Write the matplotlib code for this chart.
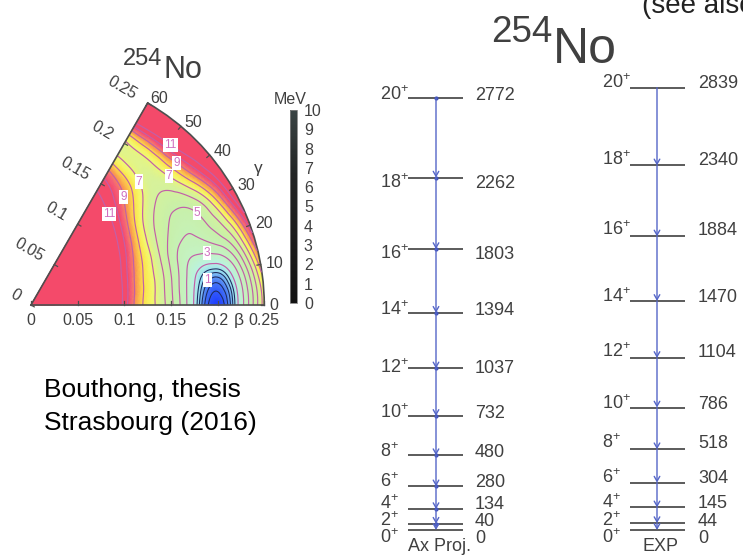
# 254No: potential energy surface in the (beta, gamma) plane, and the
# ground-state band from axial projection next to the measured band.

import numpy as np
import matplotlib
matplotlib.use("Agg")
import matplotlib.pyplot as plt
import matplotlib.tri as mtri
from matplotlib.colors import LinearSegmentedColormap, Normalize
from matplotlib.cm import ScalarMappable
from matplotlib.patches import Arc

plt.rcParams["font.family"] = ["Liberation Sans", "DejaVu Sans"]
plt.rcParams["mathtext.fontset"] = "custom"
plt.rcParams["mathtext.rm"] = "Liberation Sans"
plt.rcParams["mathtext.it"] = "Liberation Sans:italic"
plt.rcParams["mathtext.bf"] = "Liberation Sans:bold"

W, H = 743, 555

# ---- surface: energy (MeV) on a beta x gamma grid ------------------------
beta_grid = [0.0, 0.025, 0.05, 0.075, 0.1, 0.125, 0.15, 0.175, 0.2, 0.225, 0.25]
gamma_grid = [0, 10, 20, 30, 40, 50, 60]
energy_mev = [
    [30.0, 30.0, 30.0, 30.0, 30.0, 30.0, 30.0],
    [26.0, 26.0, 26.0, 26.0, 26.0, 26.0, 26.0],
    [21.0, 21.0, 21.2, 21.4, 21.6, 21.8, 22.0],
    [16.0, 16.2, 16.6, 17.2, 18.0, 18.5, 19.0],
    [10.6, 10.9, 11.5, 12.5, 13.6, 14.6, 15.0],
    [7.6, 7.8, 8.2, 9.0, 10.2, 11.4, 12.0],
    [5.3, 5.4, 5.7, 6.3, 7.5, 9.3, 10.5],
    [1.9, 2.4, 3.6, 4.8, 6.0, 7.2, 8.0],
    [0.0, 1.2, 4.0, 4.9, 6.5, 7.0, 6.8],
    [2.5, 3.3, 5.8, 7.5, 9.5, 10.6, 11.0],
    [7.5, 8.5, 10.5, 12.5, 13.0, 14.0, 15.0],
]

pink_levels = [2, 3, 4, 5, 6, 7, 8, 9, 10, 11]
dark_levels = [0.3, 0.6, 0.9, 1.2, 1.5]

# labelled contours: level and the (beta, gamma) spot where the label sits
label_levels = [11, 9, 7, 11, 9, 7, 5, 3, 1]
label_beta = [0.130, 0.154, 0.179, 0.231, 0.219, 0.204, 0.203, 0.197, 0.198]
label_gamma = [49.3, 49.0, 48.4, 49.1, 44.4, 43.1, 29.0, 16.8, 5.9]

beta_ticks = [0, 0.05, 0.1, 0.15, 0.2, 0.25]
gamma_ticks = [0, 10, 20, 30, 40, 50, 60]
cbar_ticks = [0, 1, 2, 3, 4, 5, 6, 7, 8, 9, 10]

# ---- ground-state band (keV) ----------------------------------------------
spins = [0, 2, 4, 6, 8, 10, 12, 14, 16, 18, 20]
ax_proj_kev = [0, 40, 134, 280, 480, 732, 1037, 1394, 1803, 2262, 2772]
exp_kev = [0, 44, 145, 304, 518, 786, 1104, 1470, 1884, 2340, 2839]

# label baselines below each level line, in pixels
ax_label_dy = [13, 2, 0, 1, 1.5, 2.3, 4.8, 2, 10, 10.7, 1.7]
exp_label_dy = [13, 3, 1, 0, -1, 1, -1, 1, -1.5, 0, 0]

GREY = "#404040"
LINE = "#4e4e4e"
BLUE = "#5566c8"
PINK = "#c25fa8"

pes_cmap = LinearSegmentedColormap.from_list("pes", [
    (0.00, "#2040ff"),
    (0.07, "#4f82f6"),
    (0.13, "#95dcf2"),
    (0.20, "#baf2e4"),
    (0.30, "#c4f2c4"),
    (0.50, "#c8f0aa"),
    (0.64, "#d8f29a"),
    (0.73, "#f6f86a"),
    (0.80, "#fce24a"),
    (0.88, "#fa9a50"),
    (0.95, "#f4607a"),
    (1.00, "#f44a6a"),
])
pes_cmap.set_over("#f44a6a")
pes_cmap.set_under("#2040ff")

bar_cmap = LinearSegmentedColormap.from_list(
    "bar", ["#121212", "#1b1b1b", "#222424", "#3a4444"])


def fxy(x, y):
    """pixel position -> figure fraction"""
    return x / W, 1 - y / H


fig = plt.figure(figsize=(W / 100, H / 100), dpi=100)

# ---- right: level schemes ------------------------------------------------
KEV_PX = 0.1558
ZERO_PX = 530
rax = fig.add_axes([0, 0, 1, 1])
rax.set_xlim(0, W)
rax.set_ylim(-(H - ZERO_PX) / KEV_PX, ZERO_PX / KEV_PX)
rax.axis("off")
rax.patch.set_visible(False)


def draw_band(energies, dy, x0, x1, xa, xs, xe, dots):
    for e in energies:
        rax.plot([x0, x1], [e, e], color=LINE, lw=1.3, solid_capstyle="butt")
    for lo, hi in zip(energies[:-1], energies[1:]):
        rax.annotate("", xy=(xa, lo), xytext=(xa, hi),
                     arrowprops=dict(arrowstyle="->,head_length=0.35,head_width=0.2",
                                     color=BLUE, lw=1.0, shrinkA=0, shrinkB=0,
                                     mutation_scale=10))
    if dots:
        rax.plot([xa] * (len(energies) - 1), energies[1:], "o", ms=3,
                 color="#4052b8", mec="none")
    for j, e, d in zip(spins, energies, dy):
        yb = e - d / KEV_PX
        rax.text(xs, yb, f"{j}$^{{+}}$", fontsize=13, color=GREY,
                 ha="left", va="baseline")
        rax.text(xe, yb, f"{e}", fontsize=13, color=GREY,
                 ha="left", va="baseline")


draw_band(ax_proj_kev, ax_label_dy, 408, 463, 436, 380, 475, dots=True)
draw_band(exp_kev, exp_label_dy, 630, 685, 657, 602, 698, dots=False)

fig.text(*fxy(408, 551), "Ax Proj.", fontsize=13, color=GREY, va="baseline")
fig.text(*fxy(643, 551), "EXP", fontsize=13, color=GREY, va="baseline")

fig.text(*fxy(491, 41.5), "254", fontsize=26.5, color=GREY, va="baseline")
fig.text(*fxy(553, 63.5), "No", fontsize=36, color=GREY, va="baseline")
fig.text(*fxy(642, 13), "(see also", fontsize=20, color="#222222", va="baseline")

# ---- left: beta-gamma surface --------------------------------------------
S = 933.0            # pixels per unit of beta
OX, OY = 31, 305     # pixel position of beta = 0
x0, x1, y0, y1 = -0.033, 0.30, -0.05, 0.26
lax = fig.add_axes([(OX + x0 * S) / W, (H - (OY - y0 * S)) / H,
                    (x1 - x0) * S / W, (y1 - y0) * S / H])
lax.set_xlim(x0, x1)
lax.set_ylim(y0, y1)
lax.axis("off")

# triangulate the polar grid: a fan at the origin, two triangles per cell
ng = len(gamma_grid)
px, py, pz = [0.0], [0.0], [energy_mev[0][0]]
for i in range(1, len(beta_grid)):
    for j in range(ng):
        g = np.radians(gamma_grid[j])
        px.append(beta_grid[i] * np.cos(g))
        py.append(beta_grid[i] * np.sin(g))
        pz.append(energy_mev[i][j])


def idx(i, j):
    return 1 + (i - 1) * ng + j


triangles = [[0, idx(1, j), idx(1, j + 1)] for j in range(ng - 1)]
for i in range(1, len(beta_grid) - 1):
    for j in range(ng - 1):
        a, b, c, d = idx(i, j), idx(i + 1, j), idx(i + 1, j + 1), idx(i, j + 1)
        triangles += [[a, b, c], [a, c, d]]

tri = mtri.Triangulation(px, py, triangles)
tri_f, z_f = mtri.UniformTriRefiner(tri).refine_field(np.array(pz), subdiv=4)

lax.tripcolor(tri_f, z_f, shading="gouraud", cmap=pes_cmap, vmin=0, vmax=10)
lax.tricontour(tri_f, z_f, levels=pink_levels, colors=PINK, linewidths=0.85)
lax.tricontour(tri_f, z_f, levels=dark_levels, colors="#1d2a5c", linewidths=0.75)

for lev, b, g in zip(label_levels, label_beta, label_gamma):
    g = np.radians(g)
    cs = lax.tricontour(tri_f, z_f, levels=[lev], colors="none")
    for t in lax.clabel(cs, manual=[(b * np.cos(g), b * np.sin(g))],
                        inline=False, fmt="%d", fontsize=8.5, colors="#d070c0"):
        t.set_rotation(0)
        t.set_bbox(dict(facecolor="white", edgecolor="none", pad=0.8))

# wedge outline
g60 = np.radians(60)
bmax = beta_ticks[-1]
lax.plot([0, bmax], [0, 0], color=LINE, lw=1.2)
lax.plot([0, bmax * np.cos(g60)], [0, bmax * np.sin(g60)], color=LINE, lw=1.2)
lax.add_patch(Arc((0, 0), 2 * bmax, 2 * bmax, theta1=0, theta2=60,
                  color=LINE, lw=1.2))

tk = 0.004
for b in beta_ticks:
    lax.plot([b, b], [0, tk], color=LINE, lw=0.9)
    lax.text(b, -0.0165, f"{b:g}", fontsize=11.5, color=GREY,
             ha="center", va="center")
    ex, ey = b * np.cos(g60), b * np.sin(g60)
    lax.plot([ex, ex + tk * np.sin(g60)], [ey, ey - tk * np.cos(g60)],
             color=LINE, lw=0.9)
    off = 0.015
    lax.text(ex - off * np.sin(g60), ey + off * np.cos(g60), f"{b:g}",
             fontsize=11.5, color=GREY, rotation=-30, rotation_mode="anchor",
             ha="right", va="center")
lax.text(0.2228, -0.0165, "β", fontsize=12.5, color=GREY, ha="center", va="center")

for gd in gamma_ticks:
    g = np.radians(gd)
    lax.plot([bmax * np.cos(g), (bmax - tk) * np.cos(g)],
             [bmax * np.sin(g), (bmax - tk) * np.sin(g)], color=LINE, lw=0.9)
    lax.text(0.2555 * np.cos(g), 0.2555 * np.sin(g), f"{gd}", fontsize=11.5,
             color=GREY, ha="left", va="center")
lax.text(0.2433, 0.1468, "γ", fontsize=12.5, color=GREY, ha="center", va="center")

# colour scale box
cax = fig.add_axes([290 / W, (H - 303) / H, 7 / W, 193 / H])
cb = fig.colorbar(ScalarMappable(norm=Normalize(0, 10), cmap=bar_cmap),
                  cax=cax, ticks=cbar_ticks)
cb.outline.set_edgecolor("#808080")
cb.outline.set_linewidth(0.6)
cax.tick_params(axis="y", length=0, pad=5, labelsize=11.5, labelcolor=GREY)
fig.text(*fxy(290, 100), "MeV", fontsize=11.5, color=GREY, ha="center", va="center")

fig.text(*fxy(123, 65), "254", fontsize=17, color=GREY, va="baseline")
fig.text(*fxy(164, 78.5), "No", fontsize=22, color=GREY, va="baseline")

fig.text(*fxy(44, 397), "Bouthong, thesis", fontsize=19, color="black", va="baseline")
fig.text(*fxy(44, 430), "Strasbourg (2016)", fontsize=19, color="black", va="baseline")

fig.savefig("out.png", dpi=100)
